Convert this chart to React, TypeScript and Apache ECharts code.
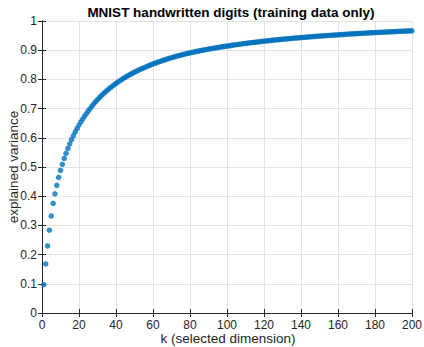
import React, { useEffect, useRef } from "react";
import * as echarts from "echarts";

const TITLE = "MNIST handwritten digits (training data only)";
const X_LABEL = "k (selected dimension)";
const Y_LABEL = "explained variance";
const X_TICKS = [0, 20, 40, 60, 80, 100, 120, 140, 160, 180, 200];
const Y_TICKS = [0, 0.1, 0.2, 0.3, 0.4, 0.5, 0.6, 0.7, 0.8, 0.9, 1];

// cumulative explained variance for k = 1..200
const EXPLAINED = [
  0.0970, 0.1680, 0.2297, 0.2836, 0.3323, 0.3754, 0.4081, 0.4370, 0.4646, 0.4882,
  0.5093, 0.5295, 0.5467, 0.5636, 0.5794, 0.5942, 0.6074, 0.6202, 0.6321, 0.6436,
  0.6543, 0.6643, 0.6739, 0.6830, 0.6918, 0.7002, 0.7084, 0.7162, 0.7237, 0.7306,
  0.7372, 0.7436, 0.7497, 0.7555, 0.7612, 0.7667, 0.7717, 0.7766, 0.7814, 0.7861,
  0.7907, 0.7952, 0.7993, 0.8033, 0.8072, 0.8109, 0.8146, 0.8181, 0.8215, 0.8247,
  0.8279, 0.8309, 0.8340, 0.8368, 0.8397, 0.8424, 0.8452, 0.8477, 0.8503, 0.8528,
  0.8552, 0.8575, 0.8598, 0.8621, 0.8643, 0.8664, 0.8684, 0.8705, 0.8725, 0.8743,
  0.8763, 0.8780, 0.8798, 0.8815, 0.8832, 0.8848, 0.8863, 0.8879, 0.8894, 0.8908,
  0.8923, 0.8937, 0.8951, 0.8964, 0.8977, 0.8989, 0.9002, 0.9014, 0.9025, 0.9037,
  0.9048, 0.9059, 0.9070, 0.9081, 0.9092, 0.9102, 0.9113, 0.9123, 0.9133, 0.9143,
  0.9152, 0.9161, 0.9171, 0.9180, 0.9189, 0.9198, 0.9206, 0.9215, 0.9223, 0.9232,
  0.9240, 0.9248, 0.9256, 0.9264, 0.9272, 0.9280, 0.9287, 0.9295, 0.9302, 0.9309,
  0.9316, 0.9323, 0.9330, 0.9337, 0.9344, 0.9350, 0.9357, 0.9363, 0.9369, 0.9375,
  0.9381, 0.9387, 0.9393, 0.9399, 0.9405, 0.9410, 0.9416, 0.9421, 0.9427, 0.9432,
  0.9437, 0.9443, 0.9448, 0.9453, 0.9458, 0.9463, 0.9468, 0.9473, 0.9478, 0.9483,
  0.9487, 0.9492, 0.9497, 0.9501, 0.9506, 0.9510, 0.9515, 0.9519, 0.9523, 0.9528,
  0.9532, 0.9536, 0.9540, 0.9544, 0.9548, 0.9552, 0.9556, 0.9560, 0.9564, 0.9568,
  0.9572, 0.9575, 0.9579, 0.9583, 0.9586, 0.9590, 0.9593, 0.9597, 0.9600, 0.9604,
  0.9607, 0.9610, 0.9614, 0.9617, 0.9620, 0.9623, 0.9626, 0.9629, 0.9632, 0.9635,
  0.9638, 0.9641, 0.9644, 0.9647, 0.9650, 0.9653, 0.9656, 0.9659, 0.9661, 0.9664,
];

const FONT = '"Liberation Sans", Arial, Helvetica, sans-serif';
const AXIS_COLOR = "#262626";
const GRID_COLOR = "#e3e3e3";

export default function App() {
  const ref = useRef<HTMLDivElement>(null);

  useEffect(() => {
    if (!ref.current) return;
    const chart = echarts.init(ref.current, undefined, { renderer: "svg" });
    const xMin = X_TICKS[0];
    const xMax = X_TICKS[X_TICKS.length - 1];
    const xInt = X_TICKS[1] - X_TICKS[0];
    const yMin = Y_TICKS[0];
    const yMax = Y_TICKS[Y_TICKS.length - 1];
    const yInt = Y_TICKS[1] - Y_TICKS[0];

    const baseAxis = {
      axisLine: { show: true, lineStyle: { color: AXIS_COLOR, width: 1 } },
      axisTick: { show: true, inside: true, length: 4, lineStyle: { color: AXIS_COLOR } },
    };

    chart.setOption({
      animation: false,
      backgroundColor: "#ffffff",
      grid: {
        left: 42,
        right: 12,
        top: 21,
        bottom: 34,
        containLabel: false,
        outerBoundsMode: "none",
      },
      graphic: [
        {
          type: "text",
          x: 231,
          y: 12,
          style: {
            text: TITLE,
            align: "center",
            verticalAlign: "middle",
            font: 'bold 13.5px "Liberation Sans", Arial, sans-serif',
            fill: "#000000",
          },
        },
        {
          type: "text",
          x: 228,
          y: 338,
          style: {
            text: X_LABEL,
            align: "center",
            verticalAlign: "middle",
            font: '13.5px "Liberation Sans", Arial, sans-serif',
            fill: AXIS_COLOR,
          },
        },
        {
          type: "text",
          x: 13,
          y: 167,
          rotation: Math.PI / 2,
          style: {
            text: Y_LABEL,
            align: "center",
            verticalAlign: "middle",
            font: '13.5px "Liberation Sans", Arial, sans-serif',
            fill: AXIS_COLOR,
          },
        },
      ],
      xAxis: [
        {
          type: "value",
          min: xMin,
          max: xMax,
          interval: xInt,
          ...baseAxis,
          axisLabel: { color: AXIS_COLOR, fontSize: 12, fontFamily: FONT, margin: 6 },
          splitLine: { show: true, lineStyle: { color: GRID_COLOR, width: 1 } },
        },
        {
          type: "value",
          position: "top",
          min: xMin,
          max: xMax,
          interval: xInt,
          ...baseAxis,
          axisLabel: { show: false },
          splitLine: { show: false },
        },
      ],
      yAxis: [
        {
          type: "value",
          min: yMin,
          max: yMax,
          interval: yInt,
          ...baseAxis,
          axisLabel: { color: AXIS_COLOR, fontSize: 12, fontFamily: FONT, margin: 5 },
          splitLine: { show: true, lineStyle: { color: GRID_COLOR, width: 1 } },
        },
        {
          type: "value",
          position: "right",
          min: yMin,
          max: yMax,
          interval: yInt,
          ...baseAxis,
          axisLabel: { show: false },
          splitLine: { show: false },
        },
      ],
      series: [
        {
          type: "scatter",
          xAxisIndex: 0,
          yAxisIndex: 0,
          symbol: "circle",
          symbolSize: 5.5,
          itemStyle: { color: "#0072BD" },
          data: EXPLAINED.map((v, i) => [i + 1, v]),
        },
      ],
    });
    return () => chart.dispose();
  }, []);

  return (
    <div
      ref={ref}
      style={{ position: "fixed", left: 0, top: 0, width: 424, height: 347, background: "#fff" }}
    />
  );
}
